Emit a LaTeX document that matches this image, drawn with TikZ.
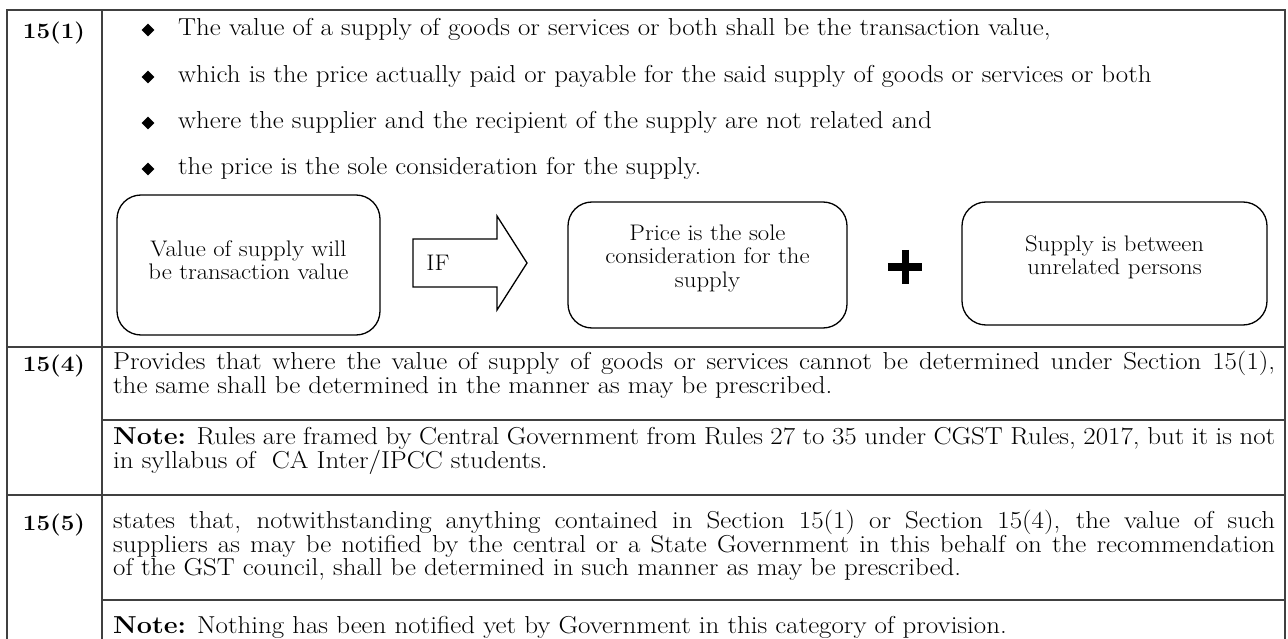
\documentclass[tikz,border=0pt]{standalone}
\usepackage{fontspec}
\setmainfont{Latin Modern Roman}[FakeStretch=1.1]
\usepackage{xcolor}
\usetikzlibrary{arrows.meta}
\usetikzlibrary{positioning}
\usetikzlibrary{shapes.geometric}

\begin{document}
\begin{tikzpicture}[
				x=1pt, y=-1pt,
				rule/.style={draw=black!75, line width=1.8pt},
				sectlabel/.style={font=\fontsize{22}{22}\selectfont\bfseries, anchor=base, inner sep=0pt},
				bodytext/.style={font=\fontsize{24.5}{23}\selectfont, anchor=base west, inner sep=0pt},
				para/.style={bodytext, text width=1162pt, align=justify},
				bullet/.style={diamond, fill=black, inner sep=0pt, minimum size=13pt},
				flowbox/.style={draw, line width=1.3pt, rounded corners=24pt},
				flowtext/.style={font=\fontsize{22.5}{23.5}\selectfont, align=center, inner sep=0pt},
				plusbar/.style={line width=7pt},
			]
				\useasboundingbox (0,0) rectangle (1288,639);

				% table rules
				\draw[rule] (7,639) -- (7,10) -- (1285,10) -- (1285,639);
				\draw[rule] (102,10) -- (102,639);
				\draw[rule] (7,347) -- (1285,347);
				\draw[rule] (102,420) -- (1285,420);
				\draw[rule] (7,495) -- (1285,495);
				\draw[rule] (102,600) -- (1285,600);

				\node[sectlabel] (sec1) at (54,39) {15(1)};
				\node[sectlabel] (sec4) at (54,371) {15(4)};
				\node[sectlabel] (sec5) at (54,530) {15(5)};

				% bullet list of 15(1)
				\foreach \y/\txt [count=\i] in {30/{The value of a supply of goods or services or both shall be the transaction value,},
						77/{which is the price actually paid or payable for the said supply of goods or services or both},
						123/{where the supplier and the recipient of the supply are not related and},
						169/{the price is the sole consideration for the supply.}} {
					\node[bullet] (bullet\i) at (148,\y) {};
					\node[bodytext] (item\i) at (178,\y+6) {\txt};
				}

				% flow of 15(1)
				\node[flowbox, minimum width=263pt, minimum height=140pt] (valuebox) at (248.5,265) {};
				\node[flowtext] (valuetext) at (248.5,260) {Value of supply will\\be transaction value};
				\draw[line width=1.3pt] (413,239) -- (497,239) -- (497,216) -- (527,263) -- (497,310) -- (497,287) -- (413,287) -- cycle;
				\node[flowtext] (iftext) at (438,263) {IF};
				\node[flowbox, minimum width=279pt, minimum height=126pt] (pricebox) at (707.5,265) {};
				\node[flowtext] (pricetext) at (707.5,258) {Price is the sole\\consideration for the\\supply};
				\node[minimum size=34pt, inner sep=0pt] (plus) at (905,267) {};
				\draw[plusbar] (plus.west) -- (plus.east) (plus.north) -- (plus.south);
				\node[flowbox, minimum width=305pt, minimum height=123pt] (partybox) at (1114.5,263.5) {};
				\node[flowtext] (partytext) at (1114.5,257.5) {Supply is between\\unrelated persons};

				% 15(4) and 15(5)
				\node[para] (provides) at (113,369) {Provides that where the value of supply of goods or services cannot be determined under Section 15(1),\linebreak the same shall be determined in the manner as may be prescribed.};
				\node[para] (note4) at (113,444) {\textbf{Note:} Rules are framed by Central Government from Rules 27 to 35 under CGST Rules, 2017, but it is not\linebreak in syllabus of~ CA Inter/IPCC students.};
				\node[para] (states) at (113,528) {states that, notwithstanding anything contained in Section 15(1) or Section 15(4), the value of such\linebreak suppliers as may be notified by the central or a State Government in this behalf on the recommendation\linebreak of the GST council, shall be determined in such manner as may be prescribed.};
				\node[para] (note5) at (113,633) {\textbf{Note:} Nothing has been notified yet by Government in this category of provision.};
			\end{tikzpicture}
\end{document}
